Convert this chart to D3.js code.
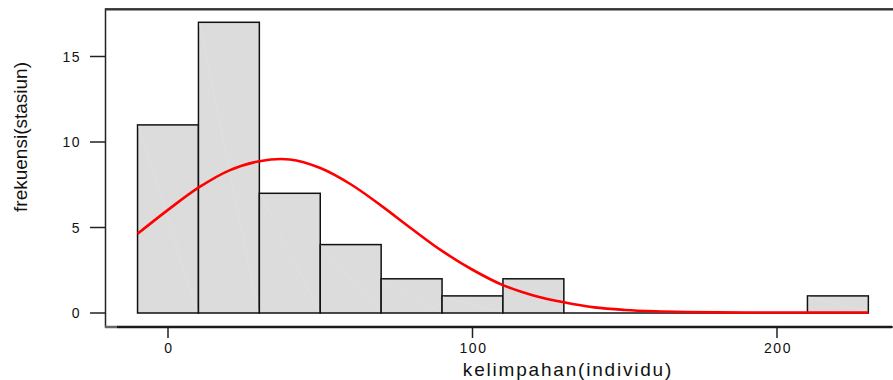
<!DOCTYPE html>
<html>
<head>
<meta charset="utf-8">
<script src="https://cdn.jsdelivr.net/npm/d3@7"></script>
<style>
  body { margin: 0; background: #fff; }
  text { font-family: "Liberation Sans", Arial, sans-serif; fill: #111; }
</style>
</head>
<body>
<svg id="chart"></svg>
<script>
// histogram bins (kelimpahan, width 20) and counts
var binStarts = [-10, 10, 30, 50, 70, 90, 110, 130, 150, 170, 190, 210];
var binCounts = [11, 17, 7, 4, 2, 1, 2, 0, 0, 0, 0, 1];
var binWidth = 20;

// fitted curve, every 10 units
var curveX = [-10, 0, 10, 20, 30, 40, 50, 60, 70, 80, 90, 100, 110, 120, 130,
              140, 150, 160, 170, 180, 190, 200, 210, 220, 230];
var curveY = [4.6, 6.0, 7.3, 8.3, 8.85, 8.95, 8.45, 7.5, 6.25, 4.9, 3.6, 2.5, 1.6, 1.0, 0.6,
              0.3, 0.15, 0.07, 0.03, 0.01, 0, 0, 0, 0, 0];

var xTicks = [0, 100, 200];
var yTicks = [0, 5, 10, 15];

var width = 893;
var height = 380;

var svg = d3.select("#chart")
              .attr("width", width)
              .attr("height", height);

var xScale = d3.scaleLinear()
                .domain([0, 200])
                .range([168, 777]);

var yScale = d3.scaleLinear()
                .domain([0, 15])
                .range([313, 56.5]);

// frame
svg.append("rect")
    .attr("x", 105.5)
    .attr("y", 9)
    .attr("width", 800)
    .attr("height", 318)
    .attr("fill", "none")
    .attr("stroke", "#222")
    .attr("stroke-width", 1.5);

svg.append("line")
    .attr("x1", 105)
    .attr("x2", 893)
    .attr("y1", 9.5)
    .attr("y2", 9.5)
    .attr("stroke", "#333")
    .attr("stroke-width", 2);

svg.append("line")
    .attr("x1", 117)
    .attr("x2", 892)
    .attr("y1", 327)
    .attr("y2", 327)
    .attr("stroke", "#1a1a1a")
    .attr("stroke-width", 2.5);

svg.append("line")
    .attr("x1", 105)
    .attr("x2", 117)
    .attr("y1", 327)
    .attr("y2", 327)
    .attr("stroke", "#666")
    .attr("stroke-width", 2.5);

// bars
var bars = svg.append("g")
  .selectAll("g")
  .data(binStarts.map((d, i) => ({x0: d, x1: d + binWidth, n: binCounts[i]})).filter(d => d.n > 0))
  .enter()
  .append("g");

bars.append("rect")
    .attr("x", d => xScale(d.x0))
    .attr("y", d => yScale(d.n))
    .attr("width", d => xScale(d.x1) - xScale(d.x0))
    .attr("height", d => yScale(0) - yScale(d.n))
    .attr("fill", "#dcdcdc")
    .attr("stroke", "#111")
    .attr("stroke-width", 1.5);

bars.append("line")
    .attr("x1", d => xScale(d.x0) + 1)
    .attr("y1", d => yScale(d.n) + 1)
    .attr("x2", d => xScale(d.x1) - 1)
    .attr("y2", yScale(0) - 1)
    .attr("stroke", "#e3e3e3")
    .attr("stroke-width", 0.6);

// baseline over empty bins
svg.append("line")
    .attr("x1", xScale(130))
    .attr("x2", xScale(210))
    .attr("y1", yScale(0))
    .attr("y2", yScale(0))
    .attr("stroke", "#111")
    .attr("stroke-width", 1.5);

// fitted curve
var line = d3.line()
              .x(d => xScale(d[0]))
              .y(d => yScale(d[1]) - 0.5)
              .curve(d3.curveCatmullRom);

svg.append("path")
    .datum(curveX.map((d, i) => [d, curveY[i]]))
    .attr("d", line)
    .attr("fill", "none")
    .attr("stroke", "#ff0000")
    .attr("stroke-width", 2.6);

// y axis
var yAxis = svg.append("g");
yAxis.selectAll("line")
  .data(yTicks)
  .enter()
  .append("line")
    .attr("x1", 90)
    .attr("x2", 105)
    .attr("y1", d => yScale(d))
    .attr("y2", d => yScale(d))
    .attr("stroke", "#222")
    .attr("stroke-width", 1.5);

yAxis.selectAll("text")
  .data(yTicks)
  .enter()
  .append("text")
    .attr("x", 81)
    .attr("y", d => yScale(d))
    .attr("dy", "0.36em")
    .style("text-anchor", "end")
    .style("font-size", "14px")
    .style("letter-spacing", "1.5px")
    .text(d => d);

// x axis
var xAxis = svg.append("g");
xAxis.selectAll("line")
  .data(xTicks)
  .enter()
  .append("line")
    .attr("x1", d => xScale(d))
    .attr("x2", d => xScale(d))
    .attr("y1", 327)
    .attr("y2", 338)
    .attr("stroke", "#222")
    .attr("stroke-width", 1.5);

xAxis.selectAll("text")
  .data(xTicks)
  .enter()
  .append("text")
    .attr("x", d => xScale(d) + 1)
    .attr("y", 353)
    .style("text-anchor", "middle")
    .style("font-size", "14px")
    .style("letter-spacing", "1.5px")
    .text(d => d);

// axis titles
svg.append("text")
    .attr("x", 568)
    .attr("y", 376)
    .style("text-anchor", "middle")
    .style("font-size", "19px")
    .style("letter-spacing", "1.8px")
    .text("kelimpahan(individu)");

svg.append("text")
    .attr("transform", "rotate(-90)")
    .attr("x", -137)
    .attr("y", 27)
    .style("text-anchor", "middle")
    .style("font-size", "19px")
    .text("frekuensi(stasiun)");
</script>
</body>
</html>
